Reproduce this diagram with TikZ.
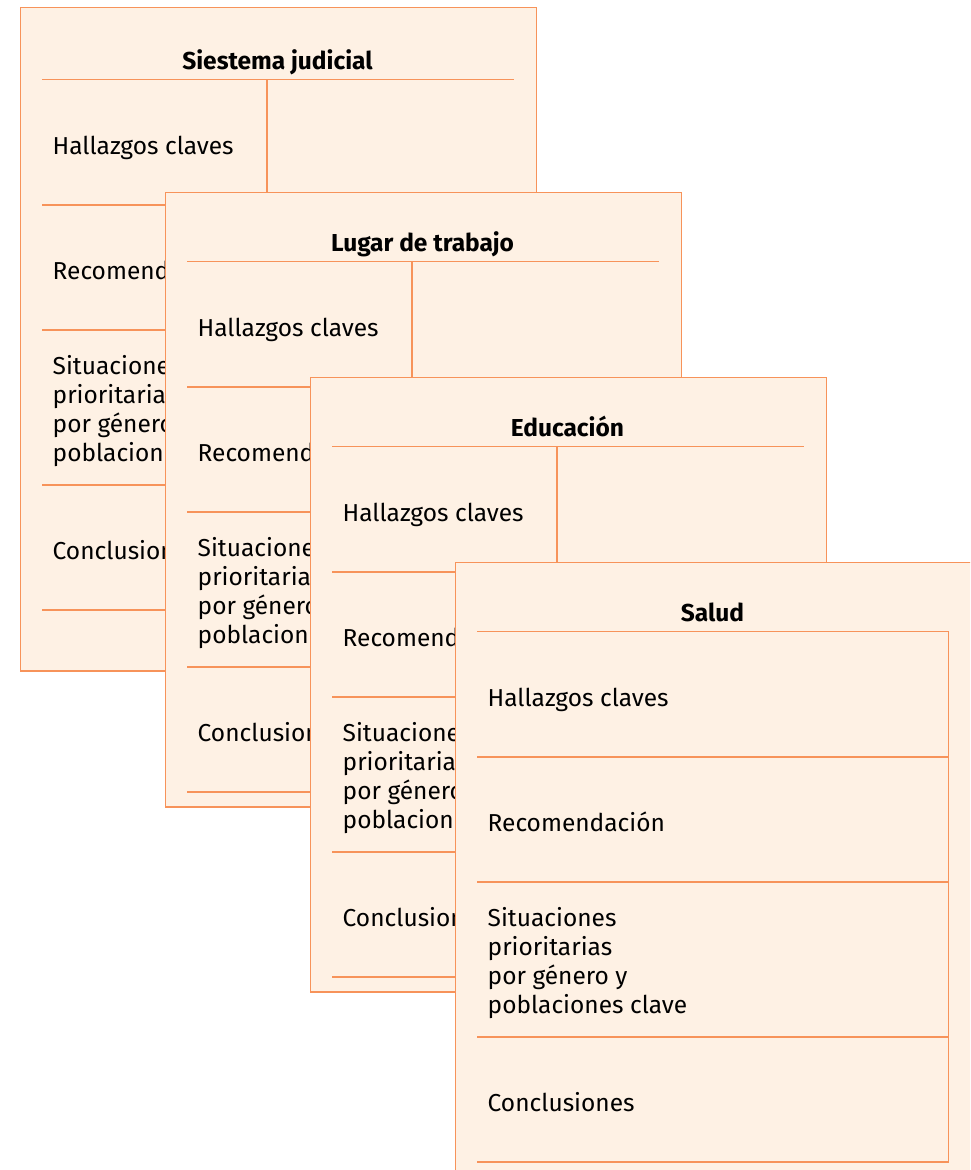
\documentclass[tikz,border=0pt]{standalone}
\usepackage{fontspec}
\setmainfont{Fira Sans}
\definecolor{cardline}{HTML}{F7935A}
\definecolor{cardfill}{HTML}{FEF1E4}
\tikzset{
  cardbox/.style={draw=cardline, fill=cardfill, line width=1.8pt, inner sep=0pt, minimum width=516pt},
  rule/.style={draw=cardline, line width=1.6pt},
  cardtitle/.style={font=\fontsize{24.5}{29}\selectfont\bfseries, anchor=base, inner sep=0pt, text=black},
  cardtext/.style={font=\fontsize{24.5}{29.3}\selectfont, anchor=base west, inner sep=0pt, align=left, text=black}
}
% #1 name, #2 left, #3 top, #4 height, #5 title, #6 delta, #7 kind (0 middle divider, 1 right divider)
\newcommand\carddraw[7]{%
\begin{scope}[shift={(#2,#3)}]
  \node[cardbox, minimum height=#4pt, anchor=north west] (#1) at (0,0) {};
  \draw[rule] (22.5,70+#6) -- (494,70+#6);
  \ifnum#7=0
    \draw[rule] (247.5,70+#6) -- (247.5,600.5+#6);
  \else
    \draw[rule] (494,70+#6) -- (494,600.5+#6);
  \fi
  \foreach \r in {195.5,320.5,475.5,600.5}{\draw[rule] (22.5,\r+#6) -- (494,\r+#6);}
  \node[cardtitle] (#1-t) at (258,59.5+#6) {#5};
  \node[cardtext] (#1-h) at (33,144.5+#6) {Hallazgos claves};
  \node[cardtext] (#1-r) at (33,269.5+#6) {Recomendación};
  \node[cardtext] (#1-s) at (33,452.4+#6) {Situaciones\\prioritarias\\por género y\\poblaciones clave};
  \node[cardtext] (#1-c) at (33,549.5+#6) {Conclusiones};
\end{scope}}
\begin{document}
\begin{tikzpicture}[x=1pt,y=-1pt]
\useasboundingbox (0,0) rectangle (970,1170);
\clip (0,0) rectangle (970,1170);
\carddraw{c1}{19.5}{6.5}{663.5}{Siestema judicial}{3}{0}
\carddraw{c2}{164.5}{191.5}{614.5}{Lugar de trabajo}{0}{0}
\carddraw{c3}{309.5}{376.5}{614.5}{Educación}{0}{0}
\carddraw{c4}{454.5}{561.5}{614.5}{Salud}{0}{1}
\end{tikzpicture}
\end{document}
